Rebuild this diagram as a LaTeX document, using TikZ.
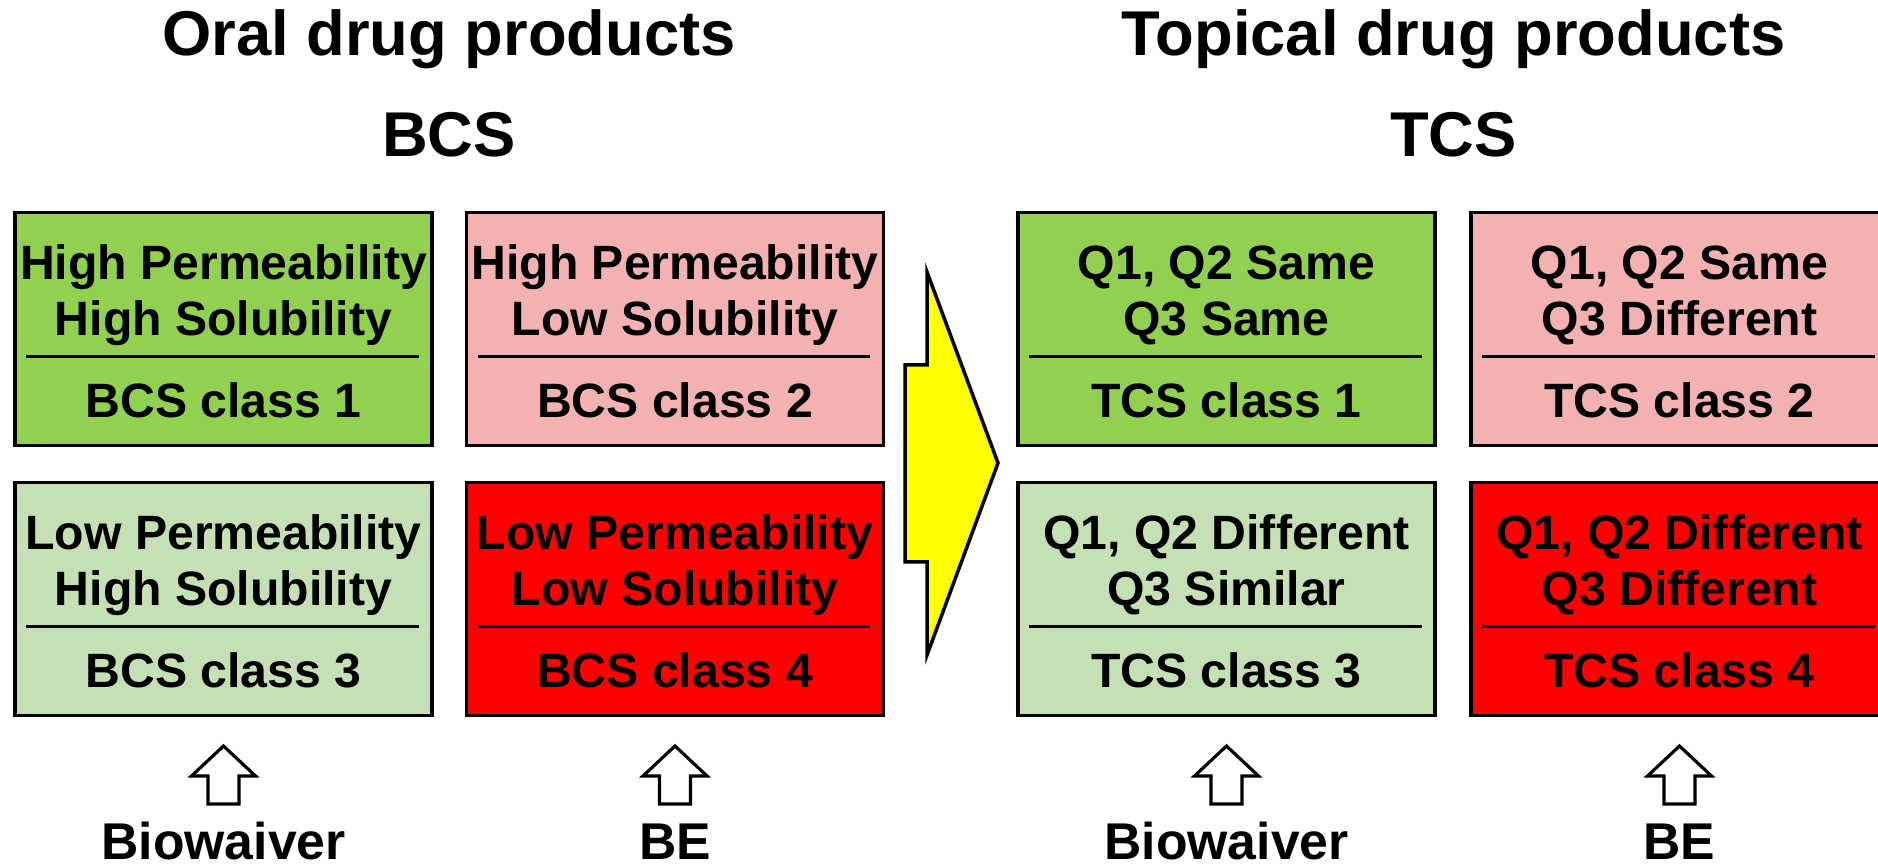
\documentclass[tikz,border=0pt]{standalone}
\usepackage{fontspec}
\setmainfont{Liberation Sans}

\definecolor{bcsgreen}{HTML}{92D050}
\definecolor{bcspink}{HTML}{F4B1B1}
\definecolor{bcspale}{HTML}{C5E0B4}
\definecolor{bcsred}{HTML}{FF0000}
\definecolor{shiftyellow}{HTML}{FFFF00}

\tikzset{
  classbox/.style={draw, line width=1pt, minimum width=4.17cm, minimum height=2.33cm, inner sep=0pt},
  boxtext/.style={font=\bfseries\fontsize{13.7}{16}\selectfont, anchor=base, inner sep=0pt},
  divider/.style={line width=0.85pt},
  headline/.style={font=\bfseries\fontsize{18}{22}\selectfont, anchor=base, inner sep=0pt},
  footlabel/.style={font=\bfseries\fontsize{14.7}{18}\selectfont, anchor=base, inner sep=0pt},
  hollowarrow/.style={draw, line width=0.9pt, fill=white},
  bigarrow/.style={draw, line width=1pt, fill=shiftyellow}
}

% name, x, y, colour, first line, second line, class
\newcommand{\drugbox}[7]{%
  \node[classbox, fill=#4] (#1) at (#2,#3) {};
  \node[boxtext] (#1-top) at (#2,#3-49.5) {#5};
  \node[boxtext] (#1-mid) at (#2,#3+6.5) {#6};
  \draw[divider] ([xshift=0.13cm,yshift=-0.275cm]#1.west) -- ([xshift=-0.15cm,yshift=-0.275cm]#1.east);
  \node[boxtext] (#1-cls) at (#2,#3+88.5) {#7};
}

\begin{document}
\begin{tikzpicture}[x=0.01cm, y=-0.01cm]
    \useasboundingbox (0,0) rectangle (1878,868);
    \clip (0,0) rectangle (1878,868);

    % headings
    \node[headline] (oral) at (449,56) {Oral drug products};
    \node[headline] (bcs) at (449,157) {BCS};
    \node[headline] (topical) at (1453.5,56) {Topical drug products};
    \node[headline] (tcs) at (1453.5,157) {TCS};

    % BCS grid
    \drugbox{bcs1}{223.5}{329}{bcsgreen}{High Permeability}{High Solubility}{BCS class 1}
    \drugbox{bcs2}{675}{329}{bcspink}{High Permeability}{Low Solubility}{BCS class 2}
    \drugbox{bcs3}{223.5}{599}{bcspale}{Low Permeability}{High Solubility}{BCS class 3}
    \drugbox{bcs4}{675}{599}{bcsred}{Low Permeability}{Low Solubility}{BCS class 4}

    % TCS grid
    \drugbox{tcs1}{1226.5}{329}{bcsgreen}{Q1, Q2 Same}{Q3 Same}{TCS class 1}
    \drugbox{tcs2}{1679.5}{329}{bcspink}{Q1, Q2 Same}{Q3 Different}{TCS class 2}
    \drugbox{tcs3}{1226.5}{599}{bcspale}{Q1, Q2 Different}{Q3 Similar}{TCS class 3}
    \drugbox{tcs4}{1679.5}{599}{bcsred}{Q1, Q2 Different}{Q3 Different}{TCS class 4}

    % big arrow in between
    \draw[bigarrow] (927,272) -- (998,463) -- (927,655) -- (927,562) -- (905,562)
        -- (905,365) -- (927,365) -- cycle;

    % small arrows under the columns
    \foreach \x in {223.5,675,1226.5,1679.5}
    \draw[hollowarrow] (\x,746) -- (\x+32,776) -- (\x+15.5,776) -- (\x+15.5,804)
        -- (\x-15.5,804) -- (\x-15.5,776) -- (\x-32,776) -- cycle;

    \node[footlabel] (bw1) at (223.5,860) {Biowaiver};
    \node[footlabel] (be1) at (675,860) {BE};
    \node[footlabel] (bw2) at (1226.5,860) {Biowaiver};
    \node[footlabel] (be2) at (1679.5,860) {BE};
\end{tikzpicture}
\end{document}
